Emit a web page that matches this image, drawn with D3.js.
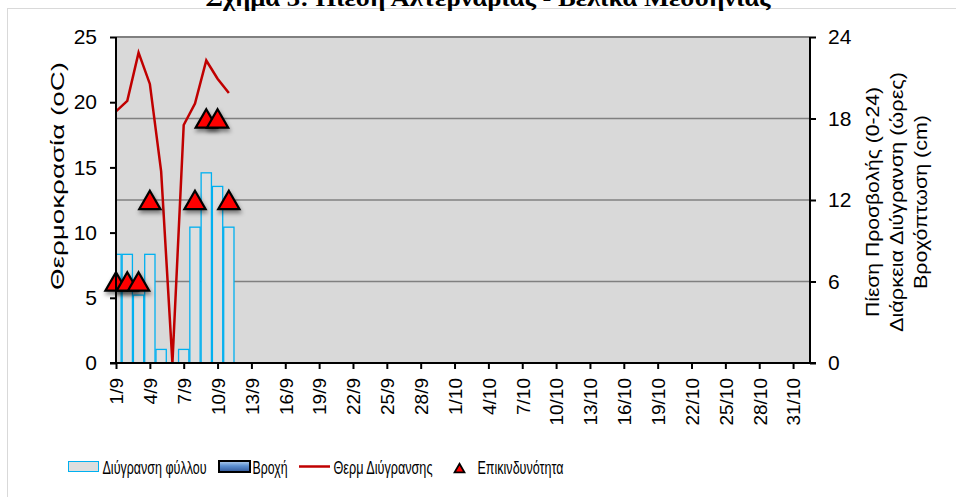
<!DOCTYPE html>
<html>
<head>
<meta charset="utf-8">
<script src="https://cdn.jsdelivr.net/npm/d3@7"></script>
<style>
  body { margin: 0; background: #fff; }
  svg { display: block; }
  svg text { font-family: "Liberation Sans", Arial, sans-serif; }
</style>
</head>
<body>
<div id="chart"></div>
<script>
// dates 1/9 .. 31/10 (day index from 1 Sept)
const dayLabels = [];
for (let d = 0; d <= 60; d += 3) {
  const date = new Date(2000, 8, 1 + d);
  dayLabels.push({ day: d, label: date.getDate() + '/' + (date.getMonth() + 1) });
}

// data, one value per day starting 1/9
const wetHours = [8, 8, 5, 8, 1, 0, 1, 10, 14, 13, 10];          // Διύγρανση φύλλου (right axis)
const rain = [];                                                  // Βροχή (none)
const wetTemp = [19.3, 20.1, 23.8, 21.4, 14.7, 0, 18.25, 19.9, 23.2, 21.8, 20.7]; // left axis
const risk = [6, 6, 6, 12, null, null, null, 12, 18, 18, 12];    // Επικινδυνότητα (right axis)

const leftTicks = [0, 5, 10, 15, 20, 25];
const rightTicks = [0, 6, 12, 18, 24];

const width = 956, height = 497;
const plot = { left: 116, top: 37, right: 810, bottom: 363 };

const svg = d3.select('#chart').append('svg')
  .attr('width', width)
  .attr('height', height);
const defs = svg.append('defs');

// outer frame
svg.append('rect')
  .attr('x', 7.5).attr('y', 8.5)
  .attr('width', 960).attr('height', 500)
  .attr('fill', 'none')
  .attr('stroke', '#d9d9d9');

// title (top half is out of view, as in the original)
svg.append('text')
  .attr('x', 488).attr('y', 6)
  .attr('text-anchor', 'middle')
  .attr('textLength', 565)
  .attr('lengthAdjust', 'spacingAndGlyphs')
  .style('font-family', '"Liberation Serif", "DejaVu Serif", serif')
  .style('font-weight', 'bold')
  .style('font-size', '24px')
  .text('Σχήμα 3: Πίεση Αλτερναρίας - Βελίκα Μεσσηνίας');

const x = d3.scaleLinear().domain([0, 61.5]).range([plot.left, plot.right]);
const yL = d3.scaleLinear().domain([0, 25]).range([plot.bottom, plot.top]);
const yR = d3.scaleLinear().domain([0, 24]).range([plot.bottom, plot.top]);
const dayW = x(1) - x(0);

defs.append('clipPath').attr('id', 'clip')
  .append('rect')
  .attr('x', plot.left).attr('y', plot.top - 20)
  .attr('width', plot.right - plot.left).attr('height', plot.bottom - plot.top + 20);

const shadow = defs.append('filter').attr('id', 'shadow')
  .attr('x', '-50%').attr('y', '-50%').attr('width', '200%').attr('height', '200%');
shadow.append('feDropShadow')
  .attr('dx', 1).attr('dy', 3).attr('stdDeviation', 2)
  .attr('flood-color', '#000').attr('flood-opacity', 0.45);

// plot area
svg.append('rect')
  .attr('x', plot.left).attr('y', plot.top)
  .attr('width', plot.right - plot.left).attr('height', plot.bottom - plot.top)
  .attr('fill', '#d9d9d9');

svg.append('line')
  .attr('x1', plot.left).attr('x2', plot.right)
  .attr('y1', plot.top).attr('y2', plot.top)
  .attr('stroke', '#808080').attr('stroke-width', 2);

// gridlines on right axis
svg.append('g').selectAll('line')
  .data(rightTicks.filter(t => t > 0 && t < 24))
  .enter().append('line')
  .attr('x1', plot.left).attr('x2', plot.right)
  .attr('y1', d => yR(d)).attr('y2', d => yR(d))
  .attr('stroke', '#808080').attr('stroke-width', 1.5);

const marks = svg.append('g').attr('clip-path', 'url(#clip)');

// bars: leaf wetness
marks.selectAll('.bar')
  .data(wetHours.map((v, i) => ({ day: i, v })).filter(d => d.v > 0))
  .enter().append('rect')
  .attr('class', 'bar')
  .attr('x', d => x(d.day) - dayW / 2 + 0.5)
  .attr('width', dayW - 1)
  .attr('y', d => yR(d.v))
  .attr('height', d => yR(0) - yR(d.v))
  .attr('fill', '#dedede')
  .attr('stroke', '#00b0f0')
  .attr('stroke-width', 1.3);

// temperature line
const line = d3.line()
  .x((d, i) => x(i))
  .y(d => yL(d));

marks.append('path')
  .datum(wetTemp)
  .attr('d', line)
  .attr('fill', 'none')
  .attr('stroke', '#c00000')
  .attr('stroke-width', 2.5);

// risk triangles
const tri = d3.symbol().type(d3.symbolTriangle).size(195);
svg.append('g').selectAll('path')
  .data(risk.map((v, i) => ({ day: i, v })).filter(d => d.v !== null))
  .enter().append('path')
  .attr('d', tri)
  .attr('transform', d => `translate(${x(d.day)},${yR(d.v) + 3})`)
  .attr('fill', '#ff0000')
  .attr('stroke', '#000')
  .attr('stroke-width', 2.2)
  .attr('filter', 'url(#shadow)');

// left axis
const leftAxis = svg.append('g')
  .attr('transform', `translate(${plot.left},0)`)
  .call(d3.axisLeft(yL).tickValues(leftTicks).tickSize(6).tickPadding(13));
leftAxis.select('.domain').attr('stroke', '#000').attr('stroke-width', 2).attr('d', `M0,${plot.top}V${plot.bottom}`);
leftAxis.selectAll('.tick line').attr('stroke', '#000').attr('stroke-width', 2);
leftAxis.selectAll('.tick text').style('font-size', '21px').attr('fill', '#000');

// right axis
const rightAxis = svg.append('g')
  .attr('transform', `translate(${plot.right},0)`)
  .call(d3.axisRight(yR).tickValues(rightTicks).tickSize(6).tickPadding(12));
rightAxis.select('.domain').attr('stroke', '#000').attr('stroke-width', 2).attr('d', `M0,${plot.top}V${plot.bottom}`);
rightAxis.selectAll('.tick line').attr('stroke', '#000').attr('stroke-width', 2);
rightAxis.selectAll('.tick text').style('font-size', '21px').attr('fill', '#000');

// x axis
const xAxis = svg.append('g')
  .attr('transform', `translate(0,${plot.bottom})`)
  .call(d3.axisBottom(x)
    .tickValues(dayLabels.map(d => d.day))
    .tickFormat((d, i) => dayLabels[i].label)
    .tickSize(6).tickSizeOuter(0));
xAxis.select('.domain').attr('stroke', '#000').attr('stroke-width', 2).attr('d', `M${plot.left - 6},0H${plot.right + 6}`);
xAxis.selectAll('.tick line').attr('stroke', '#000').attr('stroke-width', 2);
xAxis.selectAll('.tick text')
  .style('font-size', '19px').attr('fill', '#000')
  .attr('text-anchor', 'end')
  .attr('transform', 'rotate(-90)')
  .attr('x', -15).attr('y', 0).attr('dy', '0.36em');

// axis titles
svg.append('text')
  .attr('transform', 'translate(64,176) rotate(-90)')
  .attr('text-anchor', 'middle')
  .attr('textLength', 228)
  .attr('lengthAdjust', 'spacingAndGlyphs')
  .style('font-size', '18px')
  .text('Θερμοκρασία (oC)');

const rightTitle = ['Πίεση Προσβολής (0-24)', 'Διάρκεια Διύγρανση (ώρες)', 'Βροχόπτωση (cm)'];
const rightTitleLen = [230, 260, 174];
svg.append('g').selectAll('text')
  .data(rightTitle)
  .enter().append('text')
  .attr('transform', (d, i) => `translate(${879 + i * 24},202) rotate(-90)`)
  .attr('text-anchor', 'middle')
  .attr('textLength', (d, i) => rightTitleLen[i])
  .attr('lengthAdjust', 'spacingAndGlyphs')
  .style('font-size', '18px')
  .text(d => d);

// legend
const legY = 466.5;
const legend = svg.append('g').style('font-size', '18.5px');

legend.append('rect')
  .attr('x', 68.5).attr('y', legY - 5).attr('width', 30).attr('height', 10)
  .attr('fill', '#dedede').attr('stroke', '#00b0f0').attr('stroke-width', 1);
legend.append('text').attr('x', 102.5).attr('y', legY + 7)
  .attr('textLength', 104).attr('lengthAdjust', 'spacingAndGlyphs')
  .text('Διύγρανση φύλλου');

const grad = defs.append('linearGradient').attr('id', 'rainGrad')
  .attr('x1', 0).attr('y1', 0).attr('x2', 0).attr('y2', 1);
grad.append('stop').attr('offset', '0%').attr('stop-color', '#b4cfee');
grad.append('stop').attr('offset', '45%').attr('stop-color', '#5b8fd0');
grad.append('stop').attr('offset', '100%').attr('stop-color', '#2f5597');
legend.append('rect')
  .attr('x', 219).attr('y', legY - 5.5).attr('width', 31).attr('height', 11)
  .attr('fill', 'url(#rainGrad)').attr('stroke', '#000').attr('stroke-width', 2);
legend.append('text').attr('x', 252.5).attr('y', legY + 7)
  .attr('textLength', 35).attr('lengthAdjust', 'spacingAndGlyphs')
  .text('Βροχή');

legend.append('line')
  .attr('x1', 299).attr('x2', 330).attr('y1', legY).attr('y2', legY)
  .attr('stroke', '#c00000').attr('stroke-width', 2.5);
legend.append('text').attr('x', 333.5).attr('y', legY + 7)
  .attr('textLength', 99).attr('lengthAdjust', 'spacingAndGlyphs')
  .text('Θερμ Διύγρανσης');

legend.append('path')
  .attr('d', d3.symbol().type(d3.symbolTriangle).size(42))
  .attr('transform', `translate(459.5,${legY + 3})`)
  .attr('fill', '#ff0000').attr('stroke', '#000').attr('stroke-width', 1.8);
legend.append('text').attr('x', 477.5).attr('y', legY + 7)
  .attr('textLength', 86).attr('lengthAdjust', 'spacingAndGlyphs')
  .text('Επικινδυνότητα');
</script>
</body>
</html>
